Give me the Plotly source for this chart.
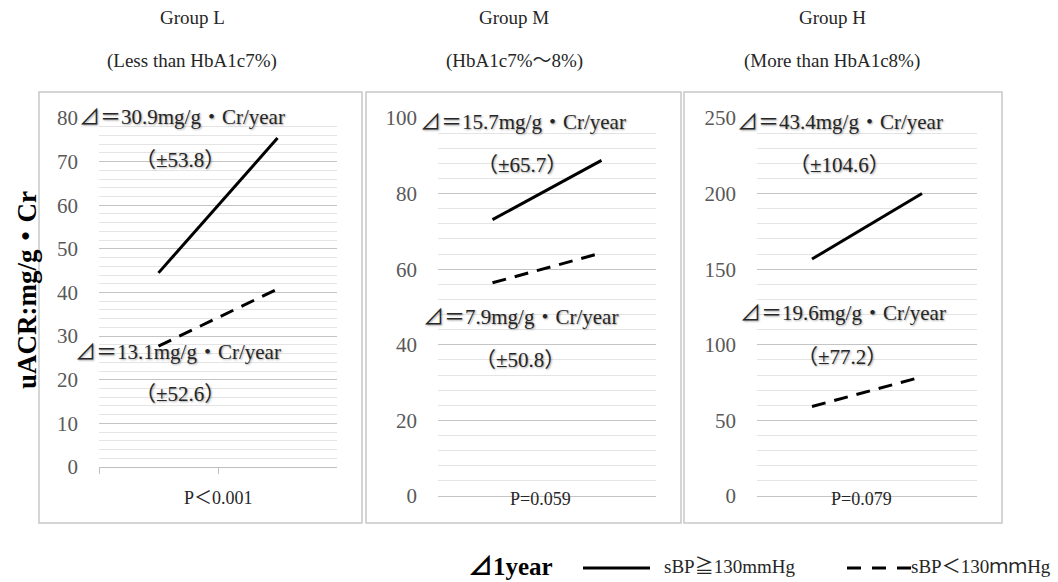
import plotly.graph_objects as go

W, H = 1058, 582


def px(x):
    return x / W


def py(y):
    return 1 - y / H


# ---------------- data ----------------
timepoints = ["Baseline", "1 year"]
groups = ["Group L", "Group M", "Group H"]
subtitles = ["(Less than HbA1c7%)", "(HbA1c7%～8%)", "(More than HbA1c8%)"]
high_bp = [[44.5, 75.4], [73.1, 88.8], [156.7, 200.1]]   # sBP >= 130 mmHg
low_bp = [[27.7, 40.8], [56.4, 64.3], [59.2, 78.8]]      # sBP < 130 mmHg
delta_high = ["⊿＝30.9mg/g・Cr/year", "⊿＝15.7mg/g・Cr/year", "⊿＝43.4mg/g・Cr/year"]
sd_high = ["（±53.8）", "（±65.7）", "（±104.6）"]
delta_low = ["⊿＝13.1mg/g・Cr/year", "⊿＝7.9mg/g・Cr/year", "⊿＝19.6mg/g・Cr/year"]
sd_low = ["（±52.6）", "（±50.8）", "（±77.2）"]
p_values = ["P＜0.001", "P=0.059", "P=0.079"]
y_max = [80, 100, 250]
y_major = [10, 20, 50]
y_minor = [2, 4, 10]
legend_title = "⊿1year"
legend_names = ["sBP≧130mmHg", "sBP＜130ｍｍHg"]

# ---------------- layout geometry (pixels) ----------------
plot_x = [(99, 337), (438, 656), (757, 977)]
plot_y = [(118, 467), (118, 496), (118, 496)]
boxes = [(39, 92, 362, 523), (366, 92, 681, 523), (684, 92, 1002, 523)]
title_x = [192, 514, 832]
ann_pos = [
    [(182, 117), (180, 160), (178, 352), (180, 394), (218, 498)],
    [(523, 122), (522, 165), (520, 317), (520, 360), (540, 499)],
    [(840, 122), (839, 165), (843, 313), (842, 357), (861, 499)],
]

SERIF = "Liberation Serif, Times New Roman, Noto Sans CJK JP, serif"
TXT = "#262626"
SHADOW = "1px 1px 2px rgba(0,0,0,0.35)"
DASH = "14px,9px"

fig = go.Figure()
annotations = []
shapes = []


def label(text, x, y, size, color=TXT, xanchor="center", shadow=None,
          bold=False, angle=0):
    f = dict(family=SERIF, size=size, color=color)
    if shadow:
        f["shadow"] = shadow
    if bold:
        f["weight"] = "bold"
    return dict(text=text, x=px(x), y=py(y), xref="paper", yref="paper",
                xanchor=xanchor, yanchor="middle", showarrow=False,
                textangle=angle, font=f)


for i in range(3):
    xa = "x" if i == 0 else f"x{i+1}"
    ya = "y" if i == 0 else f"y{i+1}"
    fig.add_trace(go.Scatter(
        x=timepoints, y=high_bp[i], mode="lines", xaxis=xa, yaxis=ya,
        line=dict(color="black", width=3), name=legend_names[0],
        showlegend=False))
    fig.add_trace(go.Scatter(
        x=timepoints, y=low_bp[i], mode="lines", xaxis=xa, yaxis=ya,
        line=dict(color="black", width=3, dash=DASH), name=legend_names[1],
        showlegend=False))

    xk = "xaxis" if i == 0 else f"xaxis{i+1}"
    yk = "yaxis" if i == 0 else f"yaxis{i+1}"
    x0, x1 = plot_x[i]
    ytop, ybot = plot_y[i]
    xaxis = dict(domain=[px(x0), px(x1)], anchor=ya, type="category",
                 categoryorder="array", categoryarray=timepoints,
                 range=[-0.5, 1.5], showticklabels=False, showgrid=False,
                 zeroline=False, fixedrange=True, automargin=False)
    if i == 0:
        xaxis.update(showline=True, linecolor="#bfbfbf", linewidth=1,
                     ticks="outside", tickson="boundaries", ticklen=6,
                     tickcolor="#bfbfbf")
    else:
        xaxis.update(showline=False, ticks="")
    yaxis = dict(domain=[py(ybot), py(ytop)], anchor=xa, range=[0, y_max[i]],
                 dtick=y_major[i], tick0=0, showgrid=True, gridcolor="#c4c4c4",
                 gridwidth=1, zeroline=(i != 0), zerolinecolor="#c4c4c4",
                 zerolinewidth=1, showline=False, ticks="",
                 ticklabelstandoff=20, automargin=False,
                 tickfont=dict(family=SERIF, size=21, color="#595959"),
                 minor=dict(dtick=y_minor[i], showgrid=True, gridcolor="#e4e4e4",
                            gridwidth=1),
                 fixedrange=True)
    fig.update_layout({xk: xaxis, yk: yaxis})

    # panel border
    bx0, by0, bx1, by1 = boxes[i]
    shapes.append(dict(type="rect", xref="paper", yref="paper",
                       x0=px(bx0), x1=px(bx1), y0=py(by1), y1=py(by0),
                       line=dict(color="#c8c8c8", width=1.5), layer="below"))

    # titles
    annotations.append(label(groups[i], title_x[i], 17, 19))
    annotations.append(label(subtitles[i], title_x[i], 61, 19))

    texts = [delta_high[i], sd_high[i], delta_low[i], sd_low[i]]
    for k, t in enumerate(texts):
        ax, ay = ann_pos[i][k]
        annotations.append(label(t, ax, ay, 21, shadow=SHADOW))
    ax, ay = ann_pos[i][4]
    annotations.append(label(p_values[i], ax, ay, 18))

# y-axis title
annotations.append(label("uACR:mg/g・Cr", 27, 290, 27, color="black",
                         bold=True, angle=-90))

# legend (drawn manually to match the reference's long line samples)
LEG_Y = 566
annotations.append(label(legend_title, 466, LEG_Y, 25, color="black",
                         xanchor="left", bold=True))
shapes.append(dict(type="line", xref="paper", yref="paper",
                   x0=px(583), x1=px(650), y0=py(LEG_Y + 2), y1=py(LEG_Y + 2),
                   line=dict(color="black", width=3)))
annotations.append(label(legend_names[0], 662, LEG_Y, 19, xanchor="left"))
shapes.append(dict(type="line", xref="paper", yref="paper",
                   x0=px(847), x1=px(911), y0=py(LEG_Y + 2), y1=py(LEG_Y + 2),
                   line=dict(color="black", width=3, dash="14px,11px")))
annotations.append(label(legend_names[1], 909, LEG_Y, 19, xanchor="left"))

fig.update_layout(
    width=W, height=H, margin=dict(l=0, r=0, t=0, b=0, autoexpand=False),
    paper_bgcolor="white", plot_bgcolor="white",
    annotations=annotations, shapes=shapes,
    showlegend=False,
)

fig.write_html("out.html",
               config={"displayModeBar": False},
               post_script="document.body.style.margin='0';"
                           "document.body.style.overflow='hidden';")
